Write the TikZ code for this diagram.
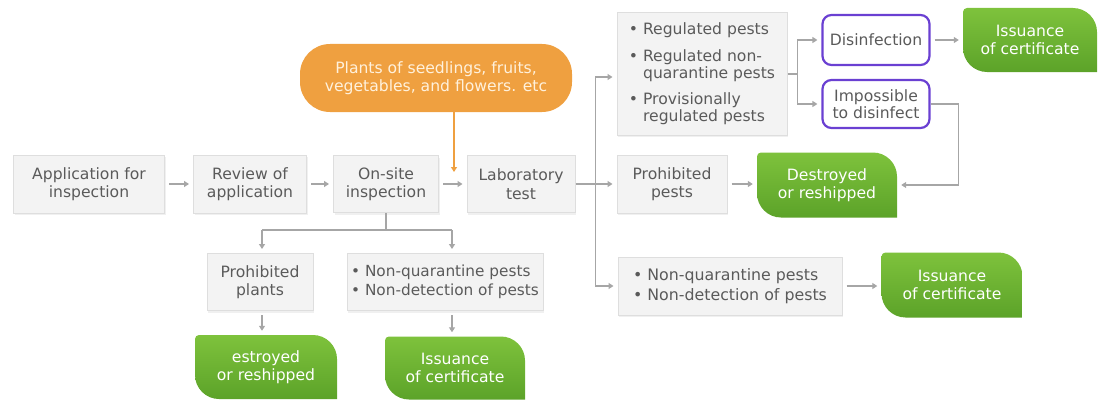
\documentclass[tikz,border=0pt]{standalone}
\usepackage{fontspec}
\setmainfont{DejaVu Sans}
\usetikzlibrary{arrows.meta,calc,shadows}
\definecolor{boxfill}{HTML}{F3F3F3}
\definecolor{boxline}{HTML}{DEDEDE}
\definecolor{txtgray}{HTML}{5A5A5A}
\definecolor{arrgray}{HTML}{A6A6A6}
\definecolor{gtop}{HTML}{7EC23C}
\definecolor{gbot}{HTML}{5CA329}
\definecolor{orangefill}{HTML}{EFA040}
\definecolor{orangetxt}{HTML}{FFF1DC}
\definecolor{purpleline}{HTML}{6A40D2}
\tikzset{
  txtfont/.style={font=\fontsize{15.6}{18.5}\selectfont},
  graybox/.style={rectangle, fill=boxfill, draw=boxline, line width=1pt, text=txtgray,
    align=center, txtfont, inner sep=2pt,
    drop shadow={opacity=0.12, shadow xshift=1pt, shadow yshift=-2pt}},
  listbox/.style={graybox, align=left},
  purplebox/.style={rectangle, rounded corners=9pt, fill=white, draw=purpleline, line width=2.2pt,
    text=txtgray, align=center, txtfont, inner sep=2pt},
  greenbox/.style={rectangle, text=white, align=center, txtfont, inner sep=2pt,
    path picture={
      \shade[top color=gtop, bottom color=gbot]
        let \p1=(path picture bounding box.south west), \p2=(path picture bounding box.north east) in
        ($(\x1,\y2)+(0pt,-4pt)$) .. controls ($(\x1,\y2)+(0pt,-1.8pt)$) and ($(\x1,\y2)+(1.8pt,0pt)$) .. ($(\x1,\y2)+(4pt,0pt)$)
        -- ($(\x2,\y2)+(-24pt,0pt)$) .. controls ($(\x2,\y2)+(-10.8pt,0pt)$) and ($(\x2,\y2)+(0pt,-10.8pt)$) .. ($(\x2,\y2)+(0pt,-24pt)$)
        -- (\x2,\y1)
        -- ($(\x1,\y1)+(24pt,0pt)$) .. controls ($(\x1,\y1)+(10.8pt,0pt)$) and ($(\x1,\y1)+(0pt,10.8pt)$) .. ($(\x1,\y1)+(0pt,24pt)$)
        -- cycle;
    }},
  orangebox/.style={rectangle, rounded corners=30pt, fill=orangefill, text=orangetxt,
    align=center, txtfont, inner sep=2pt},
  conn/.style={draw=arrgray, line width=1.6pt},
  arr/.style={conn, -{Triangle[length=5pt,width=6pt]}, shorten >=4pt},
  arrg/.style={arr, shorten <=4pt},
}
\begin{document}
\begin{tikzpicture}[x=1pt,y=-1pt]
\useasboundingbox (0,0) rectangle (1099,404);
% main row
\node[graybox, minimum width=151pt, minimum height=58pt] (app) at (89,184) {Application for\\inspection};
\node[graybox, minimum width=113pt, minimum height=58pt] (rev) at (250,184) {Review of\\application};
\node[graybox, minimum width=105pt, minimum height=57pt] (ons) at (386,184) {On-site\\inspection};
\node[graybox, minimum width=108pt, minimum height=57pt] (lab) at (521,184) {Laboratory\\test};
\node[orangebox, minimum width=272pt, minimum height=68pt] (plant) at (436,78) {Plants of seedlings, fruits,\\vegetables, and flowers. etc};
% right part
\node[listbox, minimum width=170pt, minimum height=122pt,
  font=\fontsize{15.6}{17}\selectfont] (reg) at (702,74)
  {\textbullet\ Regulated pests\\[10pt]\textbullet\ Regulated non-\\\phantom{\textbullet\ }quarantine pests\\[9pt]\textbullet\ Provisionally\\\phantom{\textbullet\ }regulated pests};
\node[purplebox, minimum width=107pt, minimum height=50pt] (dis) at (876,40) {Disinfection};
\node[purplebox, minimum width=107pt, minimum height=48pt, font=\fontsize{15.6}{17}\selectfont] (imp) at (876,104) {Impossible\\to disinfect};
\node[greenbox, minimum width=134pt, minimum height=64pt] (iss1) at (1030,40) {Issuance\\of certificate};
\node[graybox, minimum width=110pt, minimum height=58pt] (prp) at (672,184) {Prohibited\\pests};
\node[greenbox, minimum width=140pt, minimum height=65pt] (des1) at (827,185) {Destroyed\\or reshipped};
\node[listbox, minimum width=224pt, minimum height=58pt, font=\fontsize{15.8}{20}\selectfont] (nq2) at (730,286)
  {\textbullet\ Non-quarantine pests\\\textbullet\ Non-detection of pests};
\node[greenbox, minimum width=141pt, minimum height=65pt] (iss3) at (952,285) {Issuance\\of certificate};
% bottom left
\node[graybox, minimum width=106pt, minimum height=57pt] (pplants) at (260,282) {Prohibited\\plants};
\node[listbox, minimum width=196pt, minimum height=57pt, font=\fontsize{15.3}{19.5}\selectfont] (nq1) at (445,282)
  {\textbullet\ Non-quarantine pests\\\textbullet\ Non-detection of pests};
\node[greenbox, minimum width=142pt, minimum height=64pt] (des2) at (266,367) {estroyed\\or reshipped};
\node[greenbox, minimum width=140pt, minimum height=63pt] (iss2) at (455,368) {Issuance\\of certificate};
% connectors main row
\draw[arrg] (app.east) -- (rev.west);
\draw[arrg] (rev.east) -- (ons.west);
\draw[arrg] (ons.east) -- (lab.west);
\coordinate (otip) at (454,172);
\draw[conn, draw=orangefill, -{Triangle[length=5pt,width=6pt]}] (plant.south -| otip) -- (otip);
% lab split
\draw[conn] (lab.east) -- ++(20,0) coordinate (j1);
\draw[arr] (j1) |- ($(reg.west)+(0,3)$);
\draw[arr] (j1) |- (nq2.west);
\draw[arr] (j1) -- (prp.west);
% regulated split
\draw[conn] (reg.east) -- ++(10,0) coordinate (j2);
\draw[arr] (j2) |- (dis.west);
\draw[arr] (j2) |- (imp.west);
\draw[arrg] (dis.east) -- (iss1.west |- dis.east);
\draw[arr] (imp.east) -- ++(28,0) |- (des1.east);
\draw[arrg] (prp.east) -- (des1.west |- prp.east);
\draw[arrg] (nq2.east) -- (iss3.west |- nq2.east);
% on-site branch
\coordinate (b1) at (262,230);
\coordinate (b2) at (452,230);
\draw[conn] (ons.south) -- (ons.south |- b1);
\draw[conn] (b1) -- (b2);
\draw[arr] (b1) -- (b1 |- pplants.north);
\draw[arr] (b2) -- (b2 |- nq1.north);
\draw[arrg] (b1 |- pplants.south) -- (b1 |- des2.north);
\draw[arrg] (b2 |- nq1.south) -- (b2 |- iss2.north);
\end{tikzpicture}
\end{document}
